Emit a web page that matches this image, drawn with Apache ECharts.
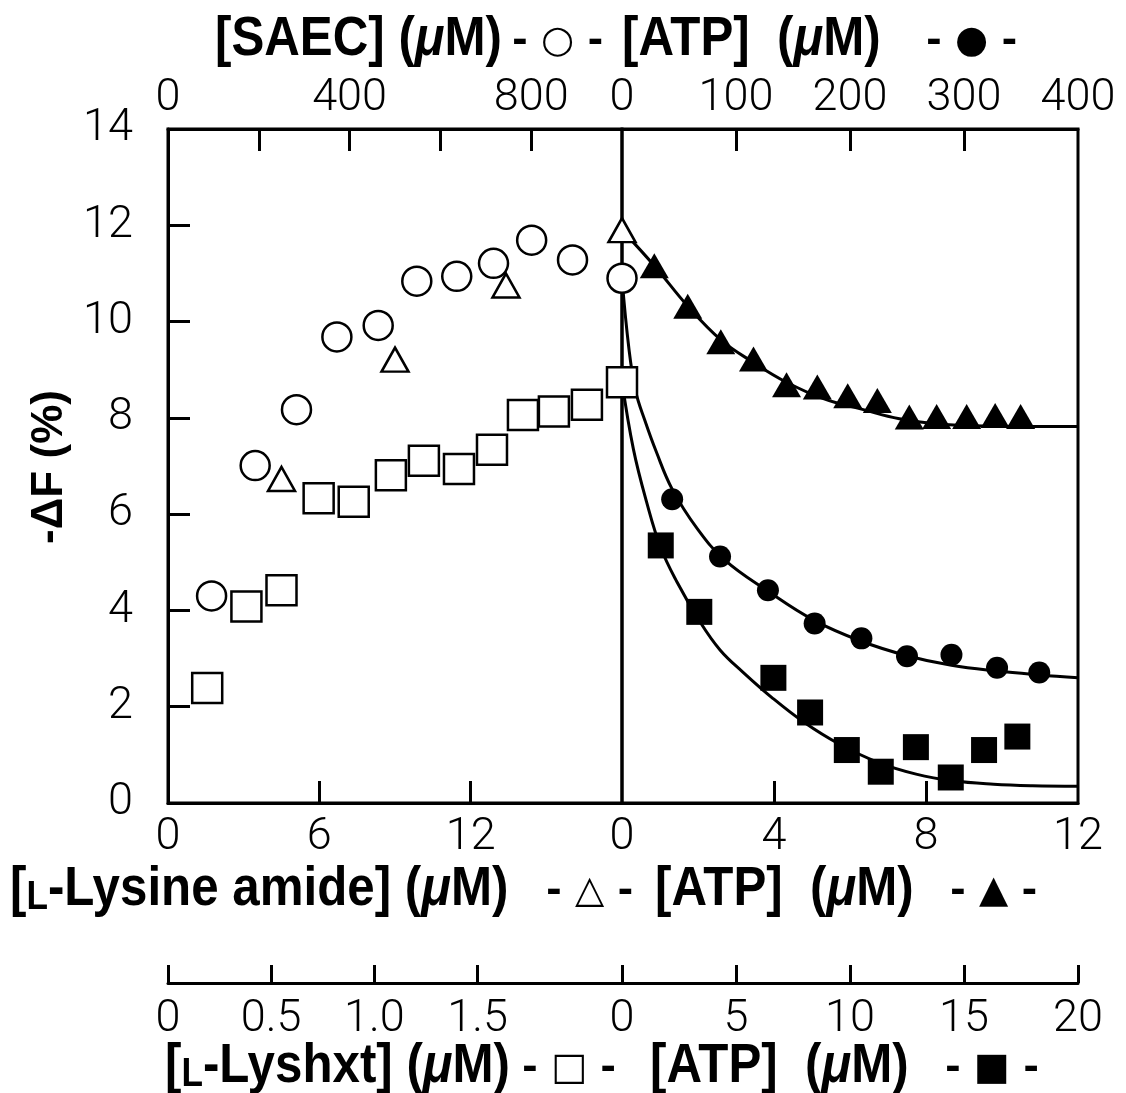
<!DOCTYPE html>
<html>
<head>
<meta charset="utf-8">
<script src="https://cdn.jsdelivr.net/npm/echarts@6/dist/echarts.min.js"></script>
<style>
  html, body { margin: 0; padding: 0; background: #fff; }
  #chart { width: 1126px; height: 1093px; }
</style>
</head>
<body>
<div id="chart"></div>
<script>
// ---- left panel: titration with the three lysine-site reagents ----
const saecConc = [96, 192, 283, 372, 463, 548, 636, 717, 801, 891, 1000];          // µM, top-left axis
const saecDF   = [4.30, 7.01, 8.17, 9.68, 9.92, 10.84, 10.94, 11.21, 11.69, 11.28, 10.90];

const lysAmideConc = [4.5, 9.0, 13.4, 18];                                         // µM, bottom-left axis
const lysAmideDF   = [6.73, 9.21, 10.75, 11.9];

const lyshxtConc = [0.19, 0.38, 0.55, 0.73, 0.90, 1.08, 1.24, 1.41, 1.57, 1.72, 1.87, 2.03, 2.2]; // µM, lower-left axis
const lyshxtDF   = [2.39, 4.08, 4.42, 6.33, 6.26, 6.81, 7.11, 6.94, 7.34, 8.06, 8.13, 8.27, 8.74];

// ---- right panel: ATP titrations after each modification ----
const atpTriConc = [0.85, 1.73, 2.60, 3.46, 4.33, 5.14, 5.94, 6.72, 7.56, 8.28, 9.07, 9.82, 10.49]; // bottom-right axis
const atpTriDF   = [11.16, 10.32, 9.58, 9.22, 8.69, 8.64, 8.46, 8.36, 8.02, 8.03, 8.03, 8.05, 8.03];

const atpCircConc = [44, 86, 128, 169, 210, 250, 289, 329, 366];                  // top-right axis
const atpCircDF   = [6.31, 5.12, 4.42, 3.73, 3.42, 3.05, 3.08, 2.81, 2.71];

const atpSqConc = [1.70, 3.39, 6.64, 8.25, 9.86, 11.35, 12.89, 14.42, 15.88, 17.34]; // lower-right axis
const atpSqDF   = [5.35, 3.97, 2.60, 1.88, 1.10, 0.65, 1.16, 0.53, 1.10, 1.38];

// fitted saturation curves
const fitTriX = [0, 0.85, 1.73, 2.60, 3.46, 4.33, 5.3, 6.35, 7.3, 8.3, 9.5, 10.8, 12];
const fitTriY = [11.9, 11.16, 10.32, 9.62, 9.15, 8.74, 8.40, 8.17, 7.98, 7.87, 7.83, 7.82, 7.82];

const fitCircX = [0, 6, 12, 20, 30, 44, 66, 90, 128, 168, 210, 250, 289, 329, 366, 400];
const fitCircY = [10.9, 9.45, 8.55, 7.95, 7.30, 6.52, 5.70, 5.05, 4.40, 3.80, 3.36, 3.06, 2.86, 2.74, 2.66, 2.60];

const fitSqX = [0, 0.5, 1.08, 1.70, 2.4, 3.4, 4.3, 5.3, 6.6, 8.0, 9.5, 11.2, 12.9, 14.5, 16.3, 18.0, 20];
const fitSqY = [8.75, 7.35, 6.25, 5.30, 4.60, 3.78, 3.18, 2.72, 2.18, 1.67, 1.23, 0.85, 0.60, 0.46, 0.39, 0.36, 0.35];

// axis ticks and labels
const yTicks = [2, 4, 6, 8, 10, 12];
const yLabels = [0, 2, 4, 6, 8, 10, 12, 14];
const saecTicks = [200, 400, 600, 800];
const saecLabels = [0, 400, 800];
const lysTicks = [6, 12];
const lysLabels = [0, 6, 12];
const atpTopTicks = [100, 200, 300];
const atpTopLabels = [0, 100, 200, 300, 400];
const atpBotTicks = [4, 8];
const atpBotLabels = [0, 4, 8, 12];
const lyshxtTicks = [0, 0.5, 1.0, 1.5];
const lyshxtLabels = [0, 0.5, 1.0, 1.5];
const atpLowTicks = [0, 5, 10, 15, 20];
const atpLowLabels = [0, 5, 10, 15, 20];

const zip = (xs, ys) => xs.map((x, i) => [x, ys[i]]);

const INK = '#000';
const numFont = { fontFamily: 'Roboto, "Liberation Sans", sans-serif', fontWeight: 300, fontSize: 45, color: INK };
const boldFamily = '"Liberation Sans", "DejaVu Sans", sans-serif';

function valueAxis(opts) {
  const ax = {
    type: 'value',
    gridIndex: opts.grid,
    position: opts.position,
    min: opts.min,
    max: opts.max,
    splitLine: { show: false },
    axisLine: { show: true, onZero: false, lineStyle: { color: INK, width: 3 } },
    axisTick: { show: true, inside: true, length: opts.tickLen || 22, lineStyle: { color: INK, width: 3 }, customValues: opts.ticks },
    axisLabel: Object.assign({ show: true, margin: opts.margin || 12, customValues: opts.labels, formatter: opts.fmt || (v => String(v)) }, numFont)
  };
  if (opts.hidden) ax.show = false;
  return ax;
}

function titleText(x, y, text) {
  return {
    type: 'text', x: x, y: y, scaleX: 0.88, z: 10,
    style: {
      text: text,
      fontFamily: boldFamily, fontWeight: 'bold', fontSize: 56, fill: INK,
      align: 'left', verticalAlign: 'middle',
      rich: {
        mu: { fontFamily: boldFamily, fontWeight: 'bold', fontStyle: 'italic', fontSize: 56, verticalAlign: 'bottom' },
        sc: { fontFamily: boldFamily, fontWeight: 'bold', fontSize: 40, verticalAlign: 'bottom' },
        n:  { fontFamily: boldFamily, fontWeight: 'bold', fontSize: 56, verticalAlign: 'bottom' }
      }
    }
  };
}
function markerText(x, y, text) {
  return {
    type: 'text', x: x, y: y, z: 10,
    style: { text: text, fontFamily: '"DejaVu Sans", sans-serif', fontWeight: 'bold', fontSize: 38, fill: INK, align: 'left', verticalAlign: 'middle' }
  };
}

const openStyle = { color: '#fff', borderColor: INK, borderWidth: 2.5, opacity: 1 };
const filledStyle = { color: INK, borderColor: INK, borderWidth: 0, opacity: 1 };
const fitLine = { color: INK, width: 3 };

const chart = echarts.init(document.getElementById('chart'), null, { renderer: 'canvas' });
chart.setOption({
  animation: false,
  backgroundColor: '#fff',
  grid: [
    { left: 168, top: 129, width: 454, height: 674, show: true, borderColor: INK, borderWidth: 3 },
    { left: 622, top: 129, width: 456, height: 674, show: true, borderColor: INK, borderWidth: 3 },
    { left: 168, top: 940, width: 454, height: 43 },
    { left: 622, top: 940, width: 456, height: 43 }
  ],
  xAxis: [
    valueAxis({ grid: 0, position: 'bottom', min: 0, max: 18, ticks: lysTicks, labels: lysLabels, margin: 12 }),
    valueAxis({ grid: 0, position: 'top', min: 0, max: 1000, ticks: saecTicks, labels: saecLabels, margin: 8 }),
    valueAxis({ grid: 0, position: 'bottom', min: 0, max: 2.2, hidden: true }),
    valueAxis({ grid: 1, position: 'bottom', min: 0, max: 12, ticks: atpBotTicks, labels: atpBotLabels, margin: 12 }),
    valueAxis({ grid: 1, position: 'top', min: 0, max: 400, ticks: atpTopTicks, labels: atpTopLabels, margin: 8 }),
    valueAxis({ grid: 1, position: 'bottom', min: 0, max: 20, hidden: true }),
    valueAxis({ grid: 2, position: 'bottom', min: 0, max: 2.2, ticks: lyshxtTicks, labels: lyshxtLabels, margin: 14, tickLen: 18,
      fmt: v => (v === 0 ? '0' : v.toFixed(1)) }),
    valueAxis({ grid: 3, position: 'bottom', min: 0, max: 20, ticks: atpLowTicks, labels: atpLowLabels, margin: 14, tickLen: 18 })
  ],
  yAxis: [
    {
      type: 'value', gridIndex: 0, position: 'left', min: 0, max: 14,
      splitLine: { show: false },
      axisLine: { show: true, lineStyle: { color: INK, width: 3 } },
      axisTick: { show: true, inside: true, length: 22, lineStyle: { color: INK, width: 3 }, customValues: yTicks },
      axisLabel: Object.assign({ margin: 35, customValues: yLabels }, numFont)
    },
    { type: 'value', gridIndex: 1, min: 0, max: 14, show: false },
    { type: 'value', gridIndex: 2, min: 0, max: 1, show: false },
    { type: 'value', gridIndex: 3, min: 0, max: 1, show: false }
  ],
  series: [
    { type: 'line', xAxisIndex: 3, yAxisIndex: 1, data: zip(fitTriX, fitTriY), showSymbol: false, smooth: 0.4, lineStyle: fitLine, z: 2, clip: false },
    { type: 'line', xAxisIndex: 4, yAxisIndex: 1, data: zip(fitCircX, fitCircY), showSymbol: false, smooth: 0.4, lineStyle: fitLine, z: 2, clip: false },
    { type: 'line', xAxisIndex: 5, yAxisIndex: 1, data: zip(fitSqX, fitSqY), showSymbol: false, smooth: 0.4, lineStyle: fitLine, z: 2, clip: false },

    { name: 'SAEC', type: 'scatter', xAxisIndex: 1, yAxisIndex: 0, data: zip(saecConc, saecDF), symbol: 'circle', symbolSize: 29, itemStyle: openStyle, z: 4, clip: false },
    { name: 'L-Lysine amide', type: 'scatter', xAxisIndex: 0, yAxisIndex: 0, data: zip(lysAmideConc, lysAmideDF), symbol: 'triangle', symbolSize: [27, 24], itemStyle: openStyle, z: 5, clip: false },
    { name: 'L-Lyshxt', type: 'scatter', xAxisIndex: 2, yAxisIndex: 0, data: zip(lyshxtConc, lyshxtDF), symbol: 'rect', symbolSize: 30, itemStyle: openStyle, z: 4, clip: false },

    { name: 'ATP (amide)', type: 'scatter', xAxisIndex: 3, yAxisIndex: 1, data: zip(atpTriConc, atpTriDF), symbol: 'triangle', symbolSize: [29, 25], itemStyle: filledStyle, z: 4, clip: false },
    { name: 'ATP (SAEC)', type: 'scatter', xAxisIndex: 4, yAxisIndex: 1, data: zip(atpCircConc, atpCircDF), symbol: 'circle', symbolSize: 22, itemStyle: filledStyle, z: 4, clip: false },
    { name: 'ATP (Lyshxt)', type: 'scatter', xAxisIndex: 5, yAxisIndex: 1, data: zip(atpSqConc, atpSqDF), symbol: 'rect', symbolSize: 26, itemStyle: filledStyle, z: 4, clip: false }
  ],
  graphic: [
    {
      type: 'text', x: 50, y: 467, rotation: Math.PI / 2, z: 10,
      style: { text: '-ΔF (%)', fontFamily: boldFamily, fontWeight: 'bold', fontSize: 44, fill: INK, align: 'center', verticalAlign: 'middle' }
    },
    titleText(215, 40, '[SAEC] ({mu|μ}M)'),
    markerText(512, 42, '- ○ -'),
    titleText(622, 40, '[ATP]  ({mu|μ}M)'),
    markerText(926, 42, '- ● -'),

    titleText(10, 890, '[{sc|L}{n|-Lysine amide}] ({mu|μ}M)'),
    markerText(546, 892, '- △ -'),
    titleText(655, 890, '[ATP]  ({mu|μ}M)'),
    markerText(950, 892, '- ▲ -'),

    titleText(165, 1067, '[{sc|L}{n|-Lyshxt}] ({mu|μ}M)'),
    markerText(522, 1069, '- □ -'),
    titleText(650, 1067, '[ATP]  ({mu|μ}M)'),
    markerText(945, 1069, '- ■ -')
  ]
});
</script>
</body>
</html>
